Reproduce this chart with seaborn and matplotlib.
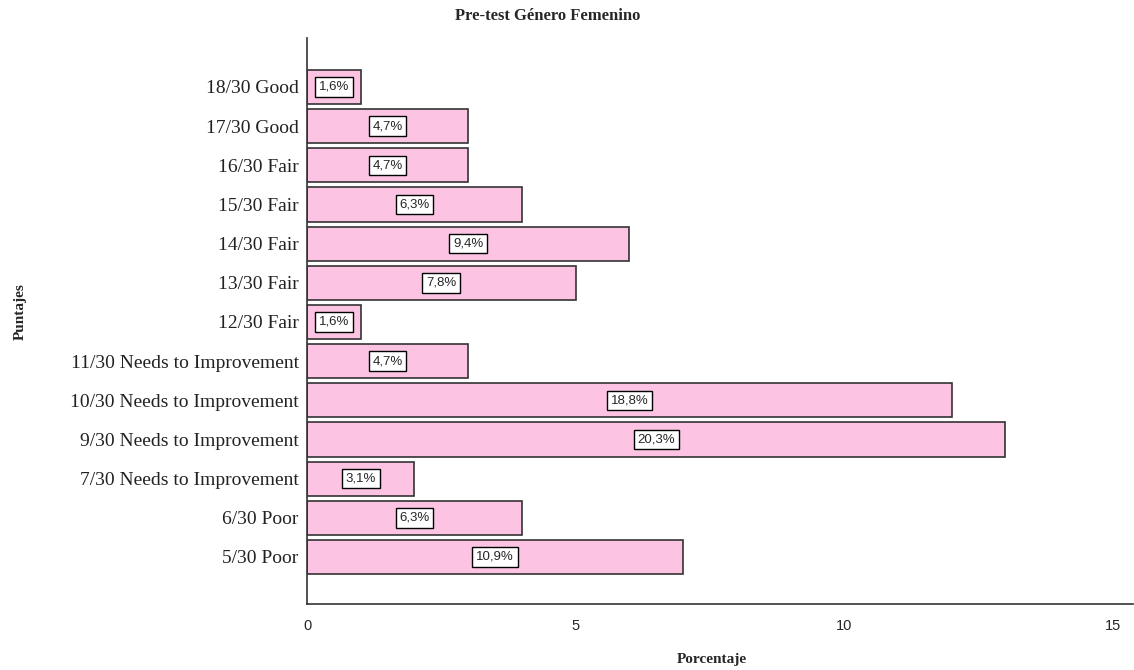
import matplotlib
matplotlib.use("Agg")
import matplotlib.pyplot as plt
import seaborn as sns
import pandas as pd

categories = ["18/30 Good", "17/30 Good", "16/30 Fair", "15/30 Fair", "14/30 Fair",
              "13/30 Fair", "12/30 Fair", "11/30 Needs to Improvement",
              "10/30 Needs to Improvement", "9/30 Needs to Improvement",
              "7/30 Needs to Improvement", "6/30 Poor", "5/30 Poor"]
values = [1, 3, 3, 4, 6, 5, 1, 3, 12, 13, 2, 4, 7]
labels = ["1,6%", "4,7%", "4,7%", "6,3%", "9,4%", "7,8%", "1,6%", "4,7%",
          "18,8%", "20,3%", "3,1%", "6,3%", "10,9%"]
xticks = [0, 5, 10, 15]

sns.set_theme(style="white")
plt.rcParams['font.family'] = ['Liberation Serif', 'DejaVu Serif']

df = pd.DataFrame({"Puntajes": categories, "Porcentaje": values})

fig = plt.figure(figsize=(11.34, 6.70), dpi=100)
ax = fig.add_axes([307/1134, 66/670, 1 - 307/1134 - 0.001, (604-38)/670])

sns.barplot(data=df, x="Porcentaje", y="Puntajes", orient="h", color="#FDC3E3",
            saturation=1, edgecolor="#333333", linewidth=1.2, width=0.87, ax=ax)

for i, (v, lab) in enumerate(zip(values, labels)):
    ax.text(v / 2, i, lab, ha="center", va="center", fontsize=9.5,
            family=['Liberation Sans', 'DejaVu Sans'],
            bbox=dict(boxstyle="square,pad=0.28", fc="white", ec="black", lw=1))

ax.set_xlim(0, 15 * 827 / 807)
ax.set_ylim(12 + 1.2, -1.25)
ax.set_xticks(xticks)
ax.set_xticklabels([str(t) for t in xticks],
                   family=['Liberation Sans Narrow', 'Liberation Sans', 'DejaVu Sans'],
                   fontsize=10.5)
ax.tick_params(axis="x", length=0, pad=11)
ax.tick_params(axis="y", length=0, pad=6, labelsize=14)
for lbl in ax.get_yticklabels():
    lbl.set_color("#222222")
ax.set_xlabel("")
ax.set_ylabel("")
for s in ["top", "right"]:
    ax.spines[s].set_visible(False)
for s in ["left", "bottom"]:
    ax.spines[s].set_color("#333333")
    ax.spines[s].set_linewidth(1.2)

fig.text(548/1134, 1 - 16/670, "Pre-test Género Femenino", ha="center", va="center",
         fontsize=12, fontweight="bold")
fig.text(712/1134, 1 - 660/670, "Porcentaje", ha="center", va="center",
         fontsize=11, fontweight="bold")
fig.text(20/1134, 1 - 312/670, "Puntajes", ha="center", va="center",
         fontsize=11, fontweight="bold", rotation=90)

fig.savefig("out.png", dpi=100, facecolor="white")
